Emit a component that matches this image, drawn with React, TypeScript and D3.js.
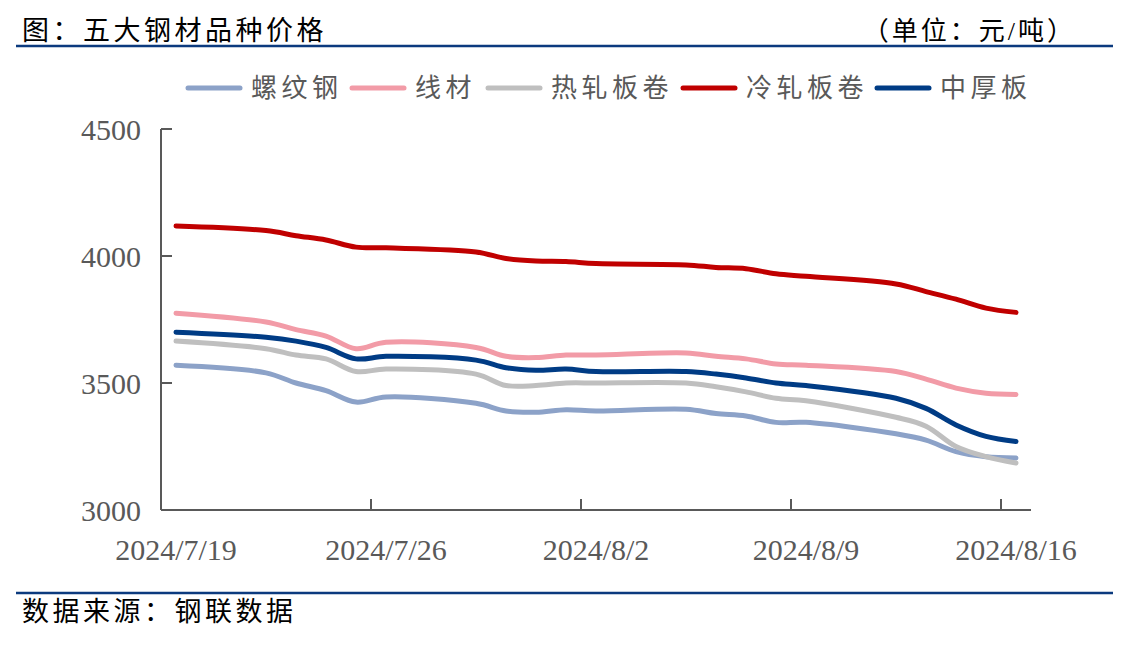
import React from "react";
import * as d3 from "d3";

const dates = [
  "2024-07-19", "2024-07-22", "2024-07-23", "2024-07-24", "2024-07-25", "2024-07-26",
  "2024-07-29", "2024-07-30", "2024-07-31", "2024-08-01", "2024-08-02",
  "2024-08-05", "2024-08-06", "2024-08-07", "2024-08-08", "2024-08-09",
  "2024-08-12", "2024-08-13", "2024-08-14", "2024-08-15", "2024-08-16",
];

const rebar = [3570, 3540, 3500, 3470, 3425, 3445, 3420, 3390, 3385, 3395, 3390, 3397, 3380, 3370, 3345, 3345, 3300, 3275, 3230, 3210, 3205];
const wire = [3775, 3740, 3710, 3685, 3635, 3660, 3640, 3605, 3600, 3610, 3610, 3618, 3605, 3595, 3575, 3570, 3545, 3515, 3480, 3460, 3455];
const hotRolled = [3665, 3635, 3610, 3595, 3545, 3555, 3535, 3490, 3490, 3500, 3500, 3500, 3485, 3465, 3440, 3430, 3365, 3330, 3250, 3210, 3185];
const coldRolled = [4118, 4100, 4080, 4063, 4035, 4032, 4016, 3990, 3980, 3978, 3970, 3965, 3955, 3950, 3930, 3920, 3890, 3860, 3830, 3795, 3778];
const plate = [3700, 3680, 3665, 3640, 3595, 3605, 3590, 3560, 3550, 3555, 3545, 3545, 3535, 3520, 3500, 3490, 3440, 3400, 3335, 3290, 3270];

const seriesNames = ["螺纹钢", "线材", "热轧板卷", "冷轧板卷", "中厚板"];
const seriesColors = ["#8CA2C8", "#F29BA7", "#BFBFBF", "#C00000", "#003C85"];
const seriesValues = [rebar, wire, hotRolled, coldRolled, plate];

const yTicks = [3000, 3500, 4000, 4500];
const xTickLabels = ["2024/7/19", "2024/7/26", "2024/8/2", "2024/8/9", "2024/8/16"];

const title = "图：五大钢材品种价格";
const unitText = "（单位：元/吨）";
const sourceText = "数据来源：钢联数据";

const W = 1137;
const H = 651;
const left = 161;
const right = 1031;
const top = 129;
const bottom = 510;
const axisColor = "#595959";
const ruleColor = "#0B3A7E";
const cjkFont = "'Liberation Serif', 'Noto Sans CJK SC', serif";
const numFont = "'Liberation Serif', 'Times New Roman', serif";

export default function App() {
  const parse = d3.timeParse("%Y-%m-%d");
  const parsed = dates.map((d) => parse(d) as Date);
  const start = parsed[0];
  const end = d3.timeDay.offset(parsed[parsed.length - 1], 1);
  const x = d3.scaleTime().domain([start, end]).range([left, right]);
  const y = d3.scaleLinear().domain([3000, 4500]).range([bottom, top]);
  const mid = (d: Date) => x(new Date(d.getTime() + 12 * 3600 * 1000));

  const line = d3
    .line<number>()
    .x((_, i) => mid(parsed[i]))
    .y((v) => y(v))
    .curve(d3.curveCatmullRom.alpha(0.5));

  const tickDates = xTickLabels.map((l) => d3.timeParse("%Y/%m/%d")(l) as Date);

  const legendX = [188, 352, 488, 683, 877];

  return (
    <svg
      width={W}
      height={H}
      style={{ position: "absolute", left: 0, top: 0, background: "#fff" }}
    >
      <text x={22} y={31} fontFamily={cjkFont} fontSize={27} letterSpacing={3.5} dominantBaseline="central" fill="#000">
        {title}
      </text>
      <text x={1076} y={31} fontFamily={cjkFont} fontSize={26} letterSpacing={3} textAnchor="end" dominantBaseline="central" fill="#000">
        {unitText}
      </text>
      <line x1={16} x2={1113} y1={46} y2={46} stroke={ruleColor} strokeWidth={2.5} />
      <line x1={16} x2={1113} y1={593} y2={593} stroke={ruleColor} strokeWidth={2.5} />
      <text x={22} y={612} fontFamily={cjkFont} fontSize={27} letterSpacing={3.5} dominantBaseline="central" fill="#000">
        {sourceText}
      </text>

      {/* legend */}
      {seriesNames.map((name, i) => (
        <g key={name}>
          <line
            x1={legendX[i]}
            x2={legendX[i] + 52}
            y1={88}
            y2={88}
            stroke={seriesColors[i]}
            strokeWidth={5}
            strokeLinecap="round"
          />
          <text
            x={legendX[i] + 63}
            y={88}
            fontFamily={cjkFont}
            fontSize={26}
            letterSpacing={4.5}
            dominantBaseline="central"
            fill={axisColor}
          >
            {name}
          </text>
        </g>
      ))}

      {/* y axis */}
      <line x1={left} x2={left} y1={top} y2={bottom} stroke={axisColor} strokeWidth={2} />
      {yTicks.map((t) => (
        <g key={t}>
          <line x1={left} x2={left + 11} y1={y(t)} y2={y(t)} stroke={axisColor} strokeWidth={2} />
          <text
            x={141}
            y={y(t)}
            textAnchor="end"
            dominantBaseline="central"
            fontFamily={numFont}
            fontSize={30}
            fill={axisColor}
          >
            {t}
          </text>
        </g>
      ))}

      {/* x axis */}
      <line x1={left} x2={right} y1={bottom} y2={bottom} stroke={axisColor} strokeWidth={2} />
      {tickDates.slice(1).map((d) => (
        <line key={+d} x1={x(d)} x2={x(d)} y1={bottom} y2={bottom - 11} stroke={axisColor} strokeWidth={2} />
      ))}
      {tickDates.map((d, i) => (
        <text
          key={xTickLabels[i]}
          x={mid(d)}
          y={560}
          textAnchor="middle"
          fontFamily={numFont}
          fontSize={30}
          fill={axisColor}
        >
          {xTickLabels[i]}
        </text>
      ))}

      {/* series */}
      {seriesValues.map((vals, i) => (
        <path
          key={seriesNames[i]}
          d={line(vals) || ""}
          fill="none"
          stroke={seriesColors[i]}
          strokeWidth={5}
          strokeLinecap="round"
          strokeLinejoin="round"
        />
      ))}
    </svg>
  );
}
